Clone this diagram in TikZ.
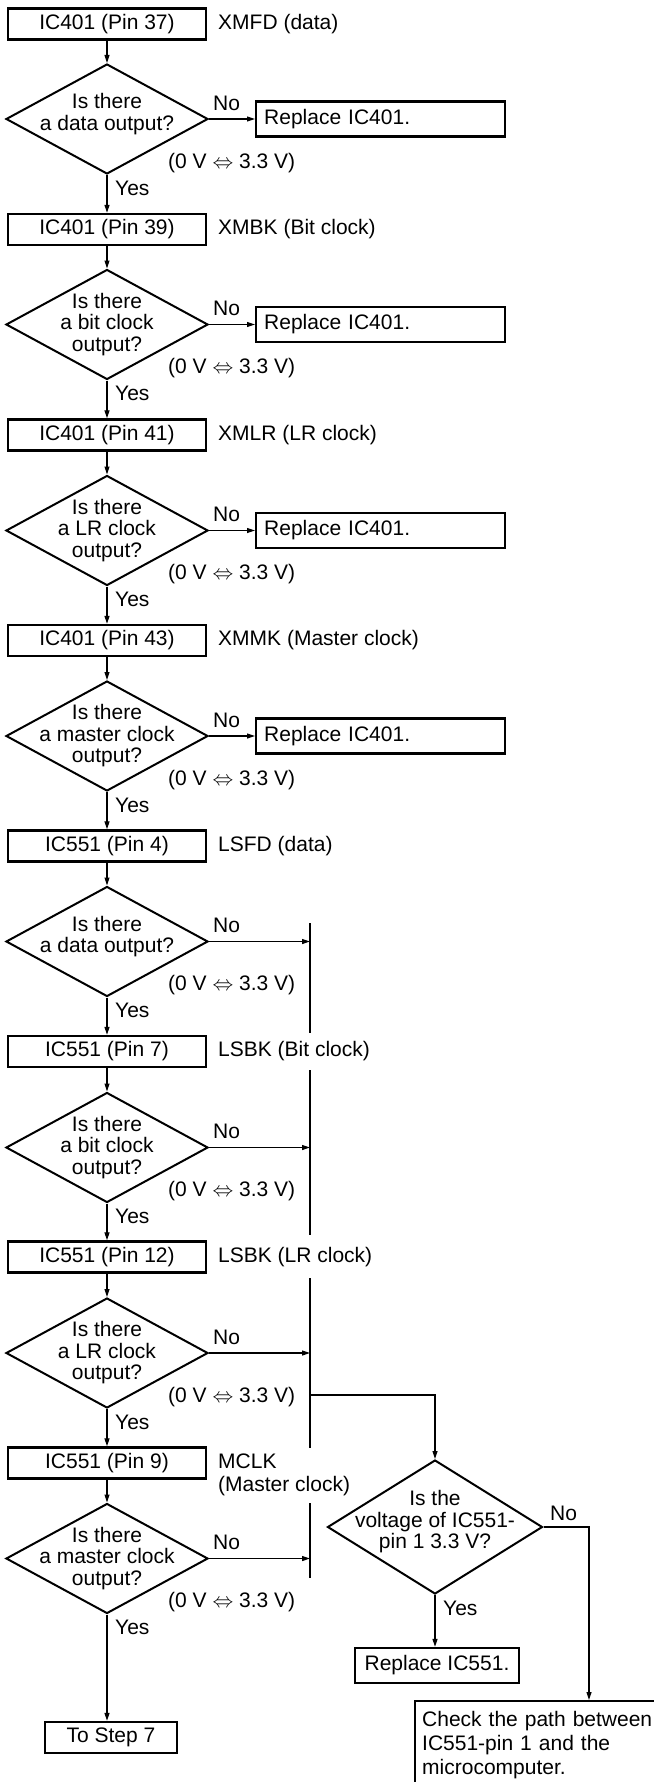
\documentclass[tikz,border=0pt]{standalone}
\usepackage{fontspec}
\setmainfont{Liberation Sans}
\usetikzlibrary{arrows.meta,shapes.geometric}
\begin{document}
\begin{tikzpicture}[
  x=1pt, y=-1pt,
  every node/.style={font=\fontsize{21}{21.5}\selectfont},
  pinbox/.style={draw, line width=2.4pt, minimum width=198pt, minimum height=31pt, inner sep=0pt},
  repbox/.style={draw, line width=2.4pt, minimum width=249pt, minimum height=35pt, text width=233pt, inner xsep=8pt, inner ysep=0pt, align=left, anchor=west},
  dia/.style={draw, diamond, line width=2pt, minimum width=202pt, minimum height=110pt, inner sep=0pt},
  dtext/.style={align=center, inner sep=0pt},
  lbl/.style={anchor=west, inner sep=0pt},
  conn/.style={line width=1.1pt, -{Triangle[length=8pt,width=5pt]}},
  barline/.style={line width=1.8pt},
]
\useasboundingbox[fill=white] (0,0) rectangle (653,1782);

% ---------- left column boxes ----------
\node[pinbox] (b1) at (107,24) {IC401 (Pin 37)};
\node[pinbox] (b2) at (107,229.5) {IC401 (Pin 39)};
\node[pinbox] (b3) at (107,435) {IC401 (Pin 41)};
\node[pinbox] (b4) at (107,640.5) {IC401 (Pin 43)};
\node[pinbox] (b5) at (107,846) {IC551 (Pin 4)};
\node[pinbox] (b6) at (107,1051.5) {IC551 (Pin 7)};
\node[pinbox] (b7) at (107,1257) {IC551 (Pin 12)};
\node[pinbox] (b8) at (107,1463) {IC551 (Pin 9)};

\node[lbl] (l1) at (218,24) {XMFD (data)};
\node[lbl] (l2) at (218,229.5) {XMBK (Bit clock)};
\node[lbl] (l3) at (218,435) {XMLR (LR clock)};
\node[lbl] (l4) at (218,640.5) {XMMK (Master clock)};
\node[lbl] (l5) at (218,846) {LSFD (data)};
\node[lbl] (l6) at (218,1051.5) {LSBK (Bit clock)};
\node[lbl] (l7) at (218,1257) {LSBK (LR clock)};
\node[lbl, align=left, font=\fontsize{21}{23}\selectfont] (l8) at (218,1474.5) {MCLK\\(Master clock)};

% ---------- diamonds ----------
\node[dia] (d1) at (107,119) {};
\node[dia] (d2) at (107,324.5) {};
\node[dia] (d3) at (107,530.5) {};
\node[dia] (d4) at (107,736) {};
\node[dia] (d5) at (107,941.5) {};
\node[dia] (d6) at (107,1147.5) {};
\node[dia] (d7) at (107,1353) {};
\node[dia] (d8) at (107,1558.5) {};

\node[dtext] (t1) at (107,114) {Is there\\a data output?};
\node[dtext] (t2) at (107,324.5) {Is there\\a bit clock\\output?};
\node[dtext] (t3) at (107,530.5) {Is there\\a LR clock\\output?};
\node[dtext] (t4) at (107,736) {Is there\\a master clock\\output?};
\node[dtext] (t5) at (107,936.5) {Is there\\a data output?};
\node[dtext] (t6) at (107,1147.5) {Is there\\a bit clock\\output?};
\node[dtext] (t7) at (107,1353) {Is there\\a LR clock\\output?};
\node[dtext] (t8) at (107,1558.5) {Is there\\a master clock\\output?};

% ---------- No / Yes / voltage labels ----------
\foreach \n/\y in {1/119,2/324.5,3/530.5,4/736,5/941.5,6/1147.5,7/1353,8/1558.5}{
  \node[lbl] (no\n) at (213,\y-16) {No};
  \node[lbl] (v\n) at (168,\y+44) {(0 V $\Leftrightarrow$ 3.3 V)};
  \node[lbl] (y\n) at (115,\y+69) {Yes};
}

% ---------- Replace IC401 boxes ----------
\node[repbox] (r1) at (255,119) {Replace IC401.};
\node[repbox] (r2) at (255,324.5) {Replace IC401.};
\node[repbox] (r3) at (255,530.5) {Replace IC401.};
\node[repbox] (r4) at (255,736) {Replace IC401.};

% ---------- vertical connector bar ----------
\coordinate (s1a) at (310,923);  \coordinate (s1b) at (310,1033);
\coordinate (s2a) at (310,1070); \coordinate (s2b) at (310,1235);
\coordinate (s3a) at (310,1278); \coordinate (s3b) at (310,1448);
\coordinate (s4a) at (310,1503); \coordinate (s4b) at (310,1578);
\draw[barline] (s1a) -- (s1b);
\draw[barline] (s2a) -- (s2b);
\draw[barline] (s3a) -- (s3b);
\draw[barline] (s4a) -- (s4b);
\coordinate (br) at (310,1395);

% ---------- right lower section ----------
\node[dia, minimum width=215pt, minimum height=134pt] (dv) at (435,1527) {};
\node[dtext] (tv) at (435,1522) {Is the\\voltage of IC551-\\pin 1 3.3 V?};
\node[lbl] (nov) at (550,1513) {No};
\node[lbl] (yv) at (443,1608) {Yes};
\node[pinbox, minimum width=164pt, minimum height=35pt] (rv) at (437,1665.5) {Replace IC551.};
\node[draw, line width=2.4pt, anchor=north west, text width=240pt, inner xsep=7pt, inner ysep=10pt, align=left, font=\fontsize{21}{24}\selectfont] (chk) at (414,1700) {Check the path between\\IC551-pin 1 and the\\microcomputer.};
\node[pinbox, minimum width=132pt] (ts) at (111,1737.5) {To Step 7};

% ---------- connectors ----------
\draw[conn] (b1) -- (d1);
\draw[conn] (d1) -- (b2);
\draw[conn] (b2) -- (d2);
\draw[conn] (d2) -- (b3);
\draw[conn] (b3) -- (d3);
\draw[conn] (d3) -- (b4);
\draw[conn] (b4) -- (d4);
\draw[conn] (d4) -- (b5);
\draw[conn] (b5) -- (d5);
\draw[conn] (d5) -- (b6);
\draw[conn] (b6) -- (d6);
\draw[conn] (d6) -- (b7);
\draw[conn] (b7) -- (d7);
\draw[conn] (d7) -- (b8);
\draw[conn] (b8) -- (d8);
\draw[conn] (d8.south) -- (d8.south |- ts.north);

\draw[conn] (d1.east) -- (r1.west);
\draw[conn] (d2.east) -- (r2.west);
\draw[conn] (d3.east) -- (r3.west);
\draw[conn] (d4.east) -- (r4.west);
\draw[conn] (d5.east) -- (d5.east -| s1a);
\draw[conn] (d6.east) -- (d6.east -| s1a);
\draw[conn] (d7.east) -- (d7.east -| s1a);
\draw[conn] (d8.east) -- (d8.east -| s1a);

\draw[line width=1.1pt, -{Triangle[length=8pt,width=5pt]}] (br) -| (dv.north);
\draw[conn] (dv.south) -- (dv.south |- rv.north);
\draw[conn] (dv.east) -| ([xshift=175pt]chk.north west);
\end{tikzpicture}
\end{document}
